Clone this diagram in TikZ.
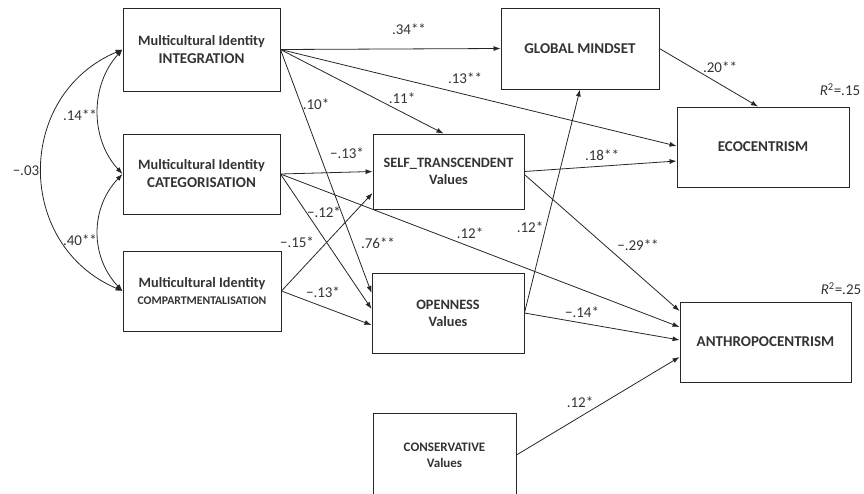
\documentclass[tikz,border=0pt]{standalone}
\usepackage{fontspec}
\setmainfont{Carlito}
\usetikzlibrary{arrows.meta}
\definecolor{txt}{HTML}{333333}
\definecolor{ln}{HTML}{262626}
\begin{document}
\begin{tikzpicture}[x=1pt,y=-1pt,
  box/.style={draw=ln,line width=0.9pt,inner sep=0pt,align=center,
    font=\bfseries\fontsize{14.3}{17}\selectfont,text=txt},
  arr/.style={-{Latex[length=7pt,width=5pt]},draw=ln,line width=0.8pt},
  darr/.style={{Latex[length=7pt,width=5pt]}-{Latex[length=7pt,width=5pt]},draw=ln,line width=0.8pt},
  lab/.style={font=\fontsize{15}{17}\selectfont,text=txt,inner sep=0pt}]
\useasboundingbox (0,0) rectangle (864,493);

% boxes
\node[box,minimum width=157pt,minimum height=83pt] (int) at (201.5,49.5)
  {Multicultural Identity\\[1pt]{\fontsize{15}{17}\selectfont INTEGRATION}};
\node[box,minimum width=157pt,minimum height=80pt] (cat) at (201.5,174)
  {Multicultural Identity\\[1pt]{\fontsize{15}{17}\selectfont CATEGORISATION}};
\node[box,minimum width=158pt,minimum height=80pt] (comp) at (202,291)
  {Multicultural Identity\\{\fontsize{11.7}{14}\selectfont COMPARTMENTALISATION}};
\node[box,minimum width=151pt,minimum height=75pt] (self) at (448.5,171.5)
  {SELF\_TRANSCENDENT\\Values};
\node[box,minimum width=152pt,minimum height=80pt] (open) at (448,313)
  {OPENNESS\\Values};
\node[box,minimum width=143pt,minimum height=84pt,font=\bfseries\fontsize{13}{16}\selectfont] (cons) at (444.5,455)
  {CONSERVATIVE\\Values};
\node[box,minimum width=158pt,minimum height=81pt,font=\bfseries\fontsize{15}{17}\selectfont] (glob) at (580,48.5)
  {GLOBAL MINDSET};
\node[box,minimum width=172pt,minimum height=80pt,font=\bfseries\fontsize{15}{17}\selectfont] (eco) at (763,147)
  {ECOCENTRISM};
\node[box,minimum width=171pt,minimum height=80pt,font=\bfseries\fontsize{15}{17}\selectfont] (anth) at (765.5,342)
  {ANTHROPOCENTRISM};

% correlations
\draw[darr] (int.west) .. controls (90,85) and (90,139) .. (cat.west);
\draw[darr] (cat.west) .. controls (90,208) and (90,257) .. (comp.west);
\draw[darr] (int.west) .. controls (15,95) and (15,245) .. (comp.west);

% paths from INTEGRATION
\draw[arr] (int.east) -- (glob.west);
\draw[arr] (int.east) -- ([yshift=1pt]eco.west);
\draw[arr] (int.east) -- ([xshift=-5pt]self.north);
\draw[arr] (int.east) -- ([yshift=20pt]open.west);
% paths from CATEGORISATION
\draw[arr] (cat.east) -- (self.west);
\draw[arr] (cat.east) -- ([yshift=4pt]open.west);
\draw[arr] (cat.east) -- ([yshift=15pt]anth.west);
% paths from COMPARTMENTALISATION
\draw[arr] (comp.east) -- ([yshift=-21.5pt]self.west);
\draw[arr] (comp.east) -- ([yshift=-12pt]open.west);
% from SELF_TRANSCENDENT
\draw[arr] (self.east) -- ([yshift=-14pt]eco.west);
\draw[arr] ([yshift=-3pt]self.east) -- ([yshift=31pt]anth.west);
% from OPENNESS
\draw[arr] (open.east) -- (glob.south);
\draw[arr] (open.east) -- ([yshift=2pt]anth.west);
% from GLOBAL MINDSET
\draw[arr] (glob.east) -- ([xshift=-5pt]eco.north);
% from CONSERVATIVE
\draw[arr] (cons.east) -- ([yshift=-15pt]anth.west);

% labels
\node[lab] (l1) at (80,115) {.14**};
\node[lab] (l2) at (80,240) {.40**};
\node[lab] (l3) at (26,171) {−.03};
\node[lab] (l4) at (409,29) {.34**};
\node[lab] (l5) at (465,78) {.13**};
\node[lab] (l6) at (402,98) {.11*};
\node[lab] (l7) at (316,104) {.10*};
\node[lab] (l8) at (347,153) {−.13*};
\node[lab] (l9) at (324,212) {−.12*};
\node[lab] (l10) at (297,242) {−.15*};
\node[lab] (l11) at (378,243) {.76**};
\node[lab] (l12) at (470,233) {.12*};
\node[lab] (l13) at (530,227) {.12*};
\node[lab] (l14) at (323,292) {−.13*};
\node[lab] (l15) at (602,155) {.18**};
\node[lab] (l16) at (720,67) {.20**};
\node[lab] (l17) at (638,245) {−.29**};
\node[lab] (l18) at (582,312) {−.14*};
\node[lab] (l19) at (580,402) {.12*};
\node[lab] (r1) at (840,90) {\textit{R}\textsuperscript{2}=.15};
\node[lab] (r2) at (841,289) {\textit{R}\textsuperscript{2}=.25};
\end{tikzpicture}
\end{document}
